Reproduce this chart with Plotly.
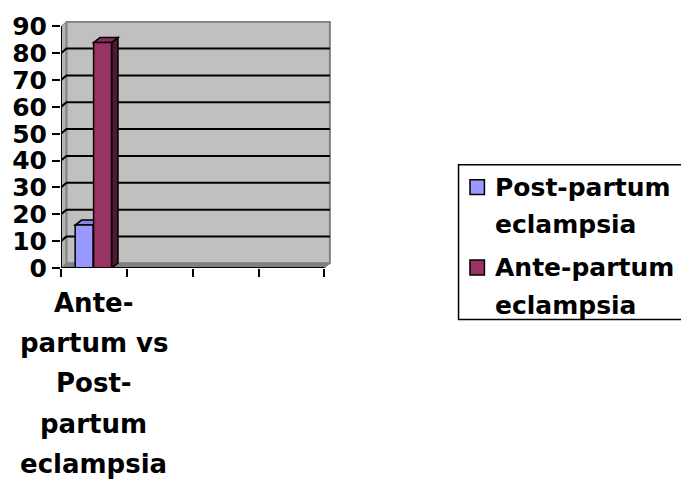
import plotly.graph_objects as go

# ---- data -------------------------------------------------------------
categories = ["Ante-partum vs Post-partum eclampsia", "", "", ""]
category_label_lines = ["Ante-", "partum vs", "Post-", "partum", "eclampsia"]
series_names = ["Post-partum eclampsia", "Ante-partum eclampsia"]
post_partum = [16, None, None, None]
ante_partum = [84, None, None, None]
y_tick_values = [0, 10, 20, 30, 40, 50, 60, 70, 80, 90]

# ---- styling ----------------------------------------------------------
FONT = "DejaVu Sans, Verdana, sans-serif"
FS = 26
LEGEND_FS = 25
front_colors = ["#9999FF", "#993366"]
top_colors = ["#8787E0", "#8C2D5E"]
side_colors = ["#5C5C99", "#4D1A33"]

# plot area geometry (pixels)
FIG_W, FIG_H = 681, 482
L, R, T, B = 60, 350, 19, 214
W_PX, H_PX = FIG_W - L - R, FIG_H - T - B
n_cat = len(categories)
x_max = 4.1
y_max = 92.0
px_x = W_PX / x_max
px_y = H_PX / y_max

# depth of the 3-D walls and of the columns, converted to axis units
wall_dx, wall_dy = 5.5 / px_x, 4.7 / px_y
bar_dx, bar_dy = 6.5 / px_x, 5.0 / px_y
y_top = y_tick_values[-1]

bar_width = 0.272
offsets = [-0.285, -0.005]
x_pos = [i + 0.5 for i in range(n_cat)]

fig = go.Figure()
series = [post_partum, ante_partum]
for name, vals, col, off in zip(series_names, series, front_colors, offsets):
    fig.add_trace(go.Bar(
        x=x_pos, y=vals, name=name,
        width=bar_width, offset=off,
        marker=dict(color=col, line=dict(color="black", width=1.5)),
        hoverinfo="skip", showlegend=False,
    ))

shapes = []


def poly(pts):
    return "M" + " L".join(f"{x},{y}" for x, y in pts) + " Z"


# side wall, back wall and floor
shapes.append(dict(type="path", layer="below", xref="x", yref="y",
                   path=poly([(0, 0), (wall_dx, wall_dy), (wall_dx, y_top + wall_dy), (0, y_top)]),
                   fillcolor="#B4B4B4", line=dict(color="#808080", width=1)))
shapes.append(dict(type="path", layer="below", xref="x", yref="y",
                   path=poly([(wall_dx, wall_dy), (n_cat + wall_dx, wall_dy),
                              (n_cat + wall_dx, y_top + wall_dy), (wall_dx, y_top + wall_dy)]),
                   fillcolor="#C0C0C0", line=dict(color="#808080", width=2)))
shapes.append(dict(type="path", layer="below", xref="x", yref="y",
                   path=poly([(0, 0), (n_cat, 0), (n_cat + wall_dx, wall_dy), (wall_dx, wall_dy)]),
                   fillcolor="#808080", line=dict(color="#808080", width=1)))

# gridlines running over side wall and back wall
for v in y_tick_values[1:-1]:
    shapes.append(dict(type="path", layer="below", xref="x", yref="y",
                       path=f"M0,{v} L{wall_dx},{v + wall_dy} L{n_cat + wall_dx},{v + wall_dy}",
                       line=dict(color="black", width=2)))

# top and side faces of each column
for vals, tc, sc, off in zip(series, top_colors, side_colors, offsets):
    for xc, v in zip(x_pos, vals):
        if v is None:
            continue
        x0 = xc + off
        x1 = x0 + bar_width
        shapes.append(dict(type="path", layer="below", xref="x", yref="y",
                           path=poly([(x1, 0), (x1 + bar_dx, bar_dy), (x1 + bar_dx, v + bar_dy), (x1, v)]),
                           fillcolor=sc, line=dict(color="black", width=1.5)))
        shapes.append(dict(type="path", layer="below", xref="x", yref="y",
                           path=poly([(x0, v), (x1, v), (x1 + bar_dx, v + bar_dy), (x0 + bar_dx, v + bar_dy)]),
                           fillcolor=tc, line=dict(color="black", width=1.5)))

# front axis lines
shapes.append(dict(type="line", layer="above", xref="x", yref="y",
                   x0=0, y0=0, x1=n_cat, y1=0, line=dict(color="black", width=2)))
shapes.append(dict(type="line", layer="above", xref="x", yref="y",
                   x0=0, y0=0, x1=0, y1=y_top, line=dict(color="black", width=2)))

text_font = dict(family=FONT, size=FS, color="black", weight="bold")
legend_font = dict(family=FONT, size=LEGEND_FS, color="black", weight="bold")

# category label, one annotation per line
annotations = []
for i, line in enumerate(category_label_lines):
    annotations.append(dict(
        x=x_pos[0], y=0, xref="x", yref="y", text=line, showarrow=False,
        xanchor="center", yanchor="middle", yshift=-(35 + 40.2 * i),
        font=text_font,
    ))


# legend box, swatches and wrapped names (positions in pixels -> paper)
def px_to_paper_x(px):
    return (px - L) / W_PX


def px_to_paper_y(py):
    return (FIG_H - B - py) / H_PX


shapes.append(dict(type="rect", layer="above", xref="paper", yref="paper",
                   x0=px_to_paper_x(459), x1=px_to_paper_x(700),
                   y0=px_to_paper_y(320), y1=px_to_paper_y(164),
                   fillcolor="white", line=dict(color="black", width=1.5)))
entry_top = 186.5
entry_step = 81
line_step = 38
for k, (name, col) in enumerate(zip(series_names, front_colors)):
    cy = entry_top + k * entry_step
    shapes.append(dict(type="rect", layer="above", xref="paper", yref="paper",
                       x0=px_to_paper_x(470.5), x1=px_to_paper_x(485),
                       y0=px_to_paper_y(cy + 7.5), y1=px_to_paper_y(cy - 7.5),
                       fillcolor=col, line=dict(color="black", width=1.5)))
    for j, word in enumerate(name.split(" ")):
        annotations.append(dict(
            x=px_to_paper_x(494), y=px_to_paper_y(cy + j * line_step),
            xref="paper", yref="paper", text=word, showarrow=False,
            xanchor="left", yanchor="middle", font=legend_font,
        ))

fig.update_layout(
    width=FIG_W, height=FIG_H,
    margin=dict(l=L, r=R, t=T, b=B, pad=0),
    paper_bgcolor="white", plot_bgcolor="white",
    barmode="overlay",
    showlegend=False,
    shapes=shapes,
    annotations=annotations,
    xaxis=dict(
        range=[0, x_max], tickvals=list(range(n_cat + 1)),
        ticktext=[""] * (n_cat + 1), ticks="outside", ticklen=8, tickwidth=2,
        tickcolor="black", showgrid=False, zeroline=False, showline=False,
        fixedrange=True,
    ),
    yaxis=dict(
        range=[0, y_max], tickvals=y_tick_values, ticks="outside",
        ticklen=8, tickwidth=2, tickcolor="black", showgrid=False,
        zeroline=False, showline=False, ticklabelstandoff=0,
        tickfont=dict(family=FONT, size=25, color="black", weight="bold"),
        fixedrange=True,
    ),
)

fig.write_html("out.html")
